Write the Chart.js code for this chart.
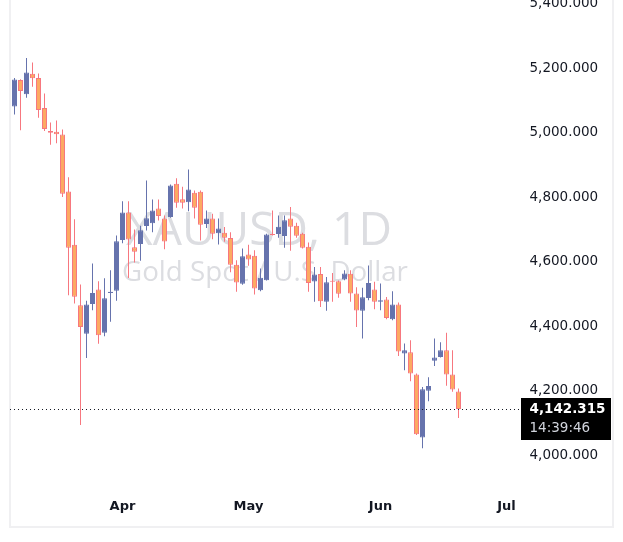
<!DOCTYPE html>
<html><head><meta charset="utf-8">
<script src="https://cdn.jsdelivr.net/npm/chart.js@4.4.1/dist/chart.umd.min.js"></script>
<style>html,body{margin:0;padding:0;background:#fff;overflow:hidden}#wrap{position:absolute;left:0;top:0;width:623px;height:542px}</style>
</head><body><div id="wrap"><canvas id="c" width="623" height="542"></canvas></div>
<script>
// ---- data ----
const opens  = [5081,5163,5119,5182,5169,5076,5005,5002,4994,4817,4652,4464,4376,4468,4513,4379,4502,4509,4667,4752,
                4644,4654,4710,4719,4764,4733,4738,4841,4793,4784,4813,4816,4716,4733,4688,4689,4673,4590,4531,4622,
                4618,4511,4542,4685,4685,4679,4733,4711,4686,4646,4538,4561,4475,4540,4539,4544,4562,4501,4447,4487,
                4513,4475,4482,4421,4467,4315,4319,4250,4054,4199,4292,4304,4325,4250,4197];
const highs  = [5169,5165,5231,5217,5183,5121,5031,5037,5009,4861,4731,4529,4478,4594,4539,4548,4573,4681,4787,4787,
                4699,4711,4851,4792,4792,4743,4839,4858,4832,4885,4820,4820,4758,4748,4733,4707,4691,4604,4640,4652,
                4635,4578,4686,4758,4743,4743,4769,4720,4689,4659,4583,4583,4552,4564,4541,4573,4573,4520,4519,4588,
                4537,4532,4490,4508,4473,4346,4356,4253,4211,4241,4361,4350,4379,4325,4206];
const lows   = [5056,5007,5108,5142,5046,5005,4962,4967,4800,4495,4470,4093,4301,4449,4345,4368,4413,4478,4657,4549,
                4597,4602,4696,4691,4727,4638,4736,4767,4764,4756,4733,4665,4704,4669,4653,4661,4567,4506,4528,4587,
                4498,4508,4541,4681,4674,4643,4633,4674,4640,4506,4475,4459,4447,4475,4488,4542,4475,4397,4361,4480,
                4452,4449,4421,4418,4307,4263,4229,4062,4021,4167,4276,4302,4215,4196,4115];
const closes = [5164,5129,5186,5168,5070,5011,4999,4995,4810,4643,4491,4397,4467,4502,4371,4486,4506,4663,4752,4668,
                4630,4697,4734,4758,4741,4662,4836,4782,4782,4823,4767,4714,4733,4686,4702,4674,4590,4535,4616,4606,
                4516,4550,4684,4682,4708,4728,4708,4680,4643,4533,4560,4477,4536,4537,4500,4563,4501,4448,4489,4533,
                4475,4480,4425,4467,4321,4325,4253,4064,4204,4214,4302,4325,4250,4203,4142.315];
const monthTicks = {18:'Apr', 39:'May', 61:'Jun', 82:'Jul'};   // slot index -> month label
const yTicks = [4000,4200,4400,4600,4800,5000,5200,5400];
const totalSlots = 85;            // trading-day slots shown (incl. empty future)
const lastPrice = 4142.315;
const countdown = '14:39:46';
const titleText = 'XAUUSD, 1D';
const descText = 'Gold Spot / U.S. Dollar';

// ---- styling ----
const UP = '#6673ad', DOWN_FILL = '#fcaa62', DOWN_LINE = '#f7777f';
const TXT = '#131722';

const labels = Array.from({length: totalSlots}, (_, i) => String(i));
const isUp = closes.map((c, i) => c >= opens[i]);
const wickData = highs.map((h, i) => [lows[i], h]);
const bodyData = opens.map((o, i) => [o, closes[i]]);

const fmt = v => Number(v).toLocaleString('en-US', {minimumFractionDigits: 3, maximumFractionDigits: 3});

const framePlugin = {
  id: 'frame',
  beforeDraw(chart) {
    const ctx = chart.ctx;
    ctx.save();
    ctx.fillStyle = '#ffffff';
    ctx.fillRect(0, 0, chart.width, chart.height);
    ctx.strokeStyle = '#f0f0f2';
    ctx.lineWidth = 2;
    ctx.beginPath();
    ctx.moveTo(10, -2); ctx.lineTo(10, 527); ctx.lineTo(613, 527); ctx.lineTo(613, -2);
    ctx.stroke();
    ctx.restore();
  }
};
const watermarkPlugin = {
  id: 'watermark',
  beforeDatasetsDraw(chart) {
    const ctx = chart.ctx;
    ctx.save();
    ctx.fillStyle = '#dcdde1';
    ctx.textAlign = 'left';
    ctx.textBaseline = 'alphabetic';
    const fit = (txt, w) => { ctx.font = '40px "Open Sans"'; return 40 * w / ctx.measureText(txt).width; };
    let s1 = fit(titleText, 266);
    ctx.font = s1 + 'px "Open Sans"';
    ctx.fillText(titleText, 126, 245);
    let s2 = fit(descText, 286);
    ctx.font = s2 + 'px "Open Sans"';
    ctx.fillText(descText, 122, 281);
    ctx.restore();
  }
};
const priceLinePlugin = {
  id: 'priceLine',
  afterDatasetsDraw(chart) {
    const ctx = chart.ctx, ca = chart.chartArea;
    const y = Math.round(chart.scales.y.getPixelForValue(lastPrice)) + 0.5;
    ctx.save();
    ctx.strokeStyle = TXT; ctx.lineWidth = 1; ctx.setLineDash([1, 3]);
    ctx.beginPath(); ctx.moveTo(10, y); ctx.lineTo(ca.right, y); ctx.stroke();
    ctx.restore();
  },
  afterDraw(chart) {
    const ctx = chart.ctx, ca = chart.chartArea;
    const y = Math.round(chart.scales.y.getPixelForValue(lastPrice));
    ctx.save();
    ctx.fillStyle = '#000000';
    ctx.fillRect(Math.floor(ca.right), y - 11, 90, 42);
    ctx.textAlign = 'left'; ctx.textBaseline = 'middle';
    ctx.fillStyle = '#ffffff';
    ctx.font = 'bold 13.5px "DejaVu Sans"';
    ctx.fillText(fmt(lastPrice), 529.5, y + 0.5);
    ctx.fillStyle = '#d1d4dc';
    ctx.font = '13.5px "DejaVu Sans"';
    ctx.fillText(countdown, 529.5, y + 19);
    ctx.restore();
  }
};

new Chart(document.getElementById('c'), {
  type: 'bar',
  data: {
    labels,
    datasets: [
      { label: 'body', data: bodyData, order: 1, grouped: false,
        backgroundColor: isUp.map(u => u ? UP : DOWN_FILL),
        borderColor: isUp.map(u => u ? UP : DOWN_LINE),
        borderWidth: 1, borderSkipped: false, barThickness: 5, minBarLength: 1, inflateAmount: 0 },
      { label: 'wick', data: wickData, order: 2, grouped: false,
        backgroundColor: isUp.map(u => u ? UP : DOWN_LINE),
        borderWidth: 0, barThickness: 1, inflateAmount: 0 }
    ]
  },
  options: {
    responsive: false, animation: false, devicePixelRatio: 1,
    layout: { padding: { left: 11.5, right: 10, top: 0, bottom: 15 } },
    plugins: { legend: { display: false }, tooltip: { enabled: false } },
    scales: {
      x: {
        type: 'category', offset: true,
        grid: { display: false, drawTicks: false }, border: { display: false },
        ticks: { autoSkip: false, maxRotation: 0, minRotation: 0, padding: 12, color: TXT,
                 font: { family: 'DejaVu Sans', size: 13, weight: 'bold' },
                 callback: (v, i) => monthTicks[i] || '' },
        afterFit: s => { s.height = 40; s.paddingLeft = 0; s.paddingRight = 0; }
      },
      y: {
        position: 'right', min: 3900.8, max: 5410.9,
        grid: { display: false, drawTicks: false }, border: { display: false },
        afterBuildTicks: s => { s.ticks = yTicks.map(v => ({ value: v })); },
        ticks: { padding: 8, color: TXT, font: { family: 'DejaVu Sans', size: 13.5 },
                 callback: v => fmt(v) },
        afterFit: s => { s.width = 91.5; s.paddingTop = 0; s.paddingBottom = 0; }
      }
    }
  },
  plugins: [framePlugin, watermarkPlugin, priceLinePlugin]
});
</script></body></html>
